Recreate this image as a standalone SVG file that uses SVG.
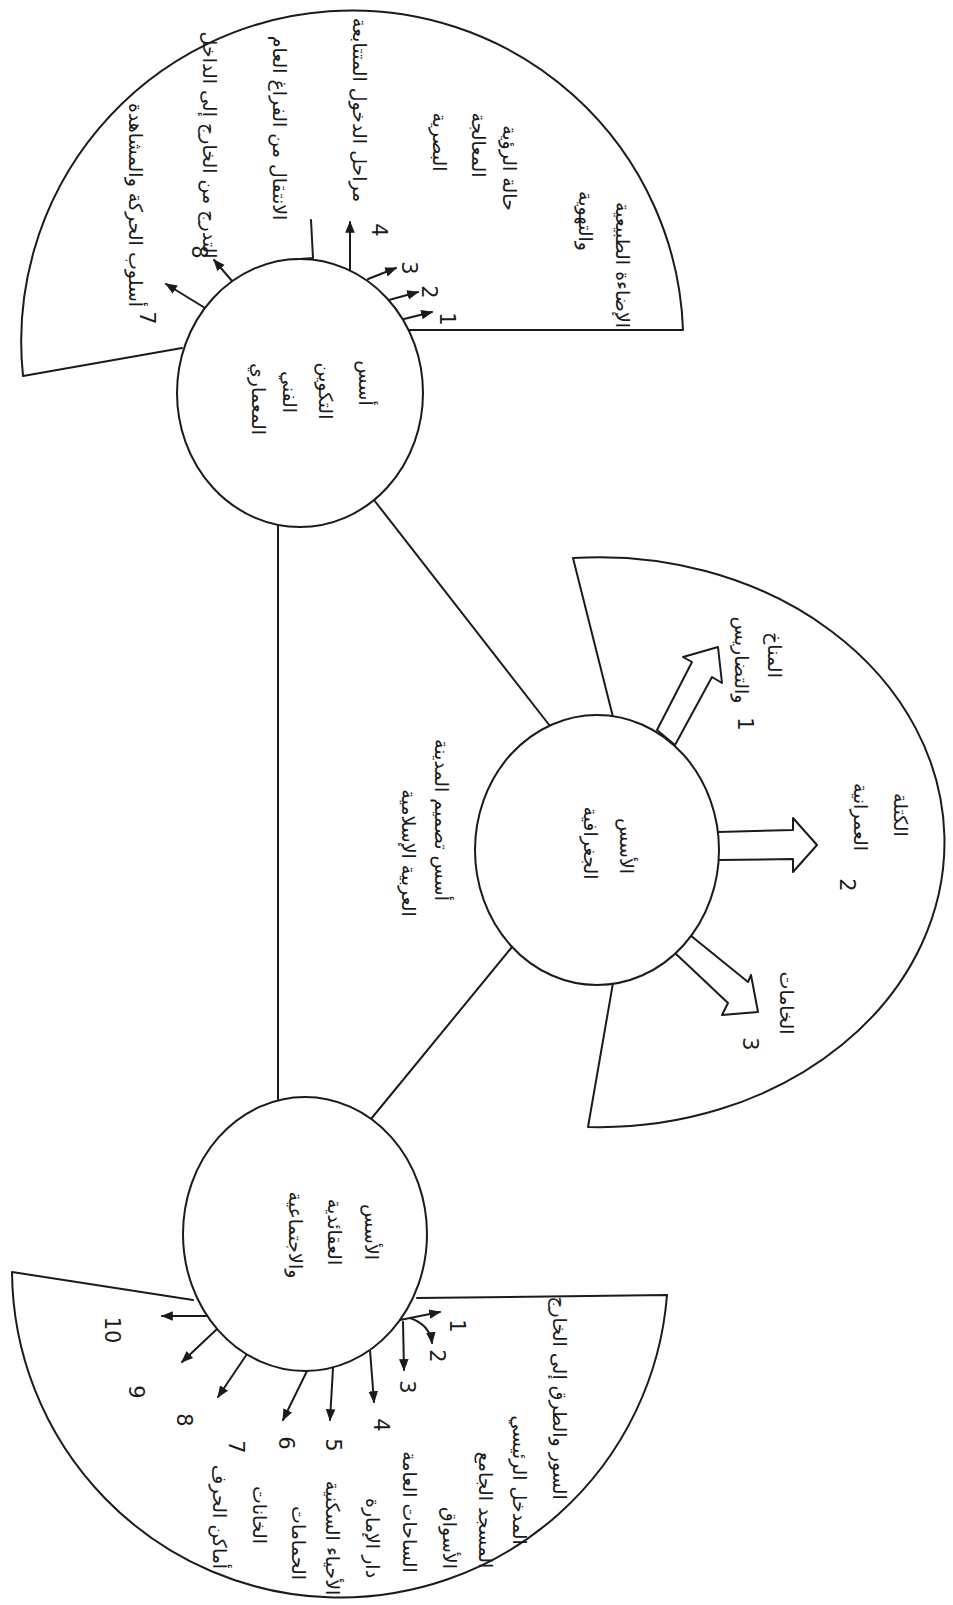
<svg xmlns="http://www.w3.org/2000/svg" width="953" height="1605" viewBox="0 0 953 1605">
<style>
.ln{fill:none;stroke:#1b1b1b;stroke-width:2;stroke-linecap:round;stroke-linejoin:round}
.nd{fill:#fff;stroke:#1b1b1b;stroke-width:2}
.ba{fill:#fff;stroke:#1b1b1b;stroke-width:2;stroke-linejoin:round}
.t{font-family:"DejaVu Sans",sans-serif;font-size:19px;fill:#1b1b1b;text-anchor:middle}
.n{font-family:"DejaVu Sans",sans-serif;font-size:21px;fill:#1b1b1b;text-anchor:middle}
</style>
<defs>
<marker id="ah" viewBox="0 0 10 10" refX="9" refY="5" markerWidth="6" markerHeight="6" orient="auto"><path d="M0,1 L10,5 L0,9 z" fill="#1b1b1b"/></marker>
</defs>
<rect width="953" height="1605" fill="#fff"/>

<g id="connectors" class="ln">
<line x1="278" y1="525" x2="278" y2="1100"/>
<line x1="374" y1="500" x2="550" y2="726"/>
<line x1="512" y1="947" x2="371" y2="1119"/>
</g>

<g id="sector-top">
<path class="ln" d="M182 348 L23 376 A331 331 0 1 1 683 330 L408 330"/>
<g class="ln">
<line x1="400" y1="320" x2="432" y2="312" marker-end="url(#ah)"/>
<line x1="389" y1="300" x2="418" y2="292" marker-end="url(#ah)"/>
<line x1="368" y1="279" x2="396" y2="268" marker-end="url(#ah)"/>
<line x1="350" y1="270" x2="350" y2="222" marker-end="url(#ah)"/>
<path d="M287 260 L313 258 L311 220"/>
<line x1="232" y1="281" x2="214" y2="260" marker-end="url(#ah)"/>
<line x1="205" y1="308" x2="166" y2="284" marker-end="url(#ah)"/>
</g>
<text class="t" transform="translate(129,205) rotate(90)">أسلوب الحركة والمشاهدة</text>
<text class="t" transform="translate(203,145) rotate(90)">التدرج من الخارج إلى الداخل</text>
<text class="t" transform="translate(273,128) rotate(90)">الانتقال من الفراغ العام</text>
<text class="t" transform="translate(353,110) rotate(90)">مراحل الدخول المتتابعة</text>
<text class="t" transform="translate(433,142) rotate(90)">البصرية</text>
<text class="t" transform="translate(472,145) rotate(90)">المعالجة</text>
<text class="t" transform="translate(503,168) rotate(90)">حالة الرؤية</text>
<text class="t" transform="translate(579,221) rotate(90)">والتهوية</text>
<text class="t" transform="translate(616,265) rotate(90)">الإضاءة الطبيعية</text>
<text class="n" transform="translate(440,319) rotate(90)">1</text>
<text class="n" transform="translate(422,292) rotate(90)">2</text>
<text class="n" transform="translate(402,268) rotate(90)">3</text>
<text class="n" transform="translate(372,230) rotate(90)">4</text>
<text class="n" transform="translate(192,252) rotate(90)">8</text>
<text class="n" transform="translate(140,318) rotate(90)">7</text>
</g>

<g id="node-top">
<ellipse class="nd" cx="300" cy="393" rx="123" ry="134"/>
<text class="t" transform="translate(359,383) rotate(90)">أسس</text>
<text class="t" transform="translate(319,391) rotate(90)">التكوين</text>
<text class="t" transform="translate(283,392) rotate(90)">الفني</text>
<text class="t" transform="translate(252,399) rotate(90)">المعماري</text>
</g>

<g id="label-center">
<text class="t" transform="translate(435,820) rotate(90)">أسس تصميم المدينة</text>
<text class="t" transform="translate(402,853) rotate(90)">العربية الإسلامية</text>
</g>

<g id="sector-middle">
<path class="ln" d="M613 717 L573 558 A345 285 0 1 1 588 1127 L613 983"/>
<polygon class="ba" points="657,730 692,662 683,657 718,647 722,683 712,677 675,745"/>
<polygon class="ba" points="718,832 793,830 793,818 817,845 793,872 793,859 718,860"/>
<polygon class="ba" points="690,935 748,982 751,975 758,1012 722,1015 728,1003 675,953"/>
<text class="t" transform="translate(768,655) rotate(90)">المناخ</text>
<text class="t" transform="translate(735,660) rotate(90)">والتضاريس</text>
<text class="n" transform="translate(738,724) rotate(90)">1</text>
<text class="t" transform="translate(894,815) rotate(90)">الكتلة</text>
<text class="t" transform="translate(854,817) rotate(90)">العمرانية</text>
<text class="n" transform="translate(840,885) rotate(90)">2</text>
<text class="t" transform="translate(780,1003) rotate(90)">الخامات</text>
<text class="n" transform="translate(743,1044) rotate(90)">3</text>
</g>

<g id="node-middle">
<ellipse class="nd" cx="597" cy="850" rx="122" ry="135"/>
<text class="t" transform="translate(620,846) rotate(90)">الأسس</text>
<text class="t" transform="translate(584,843) rotate(90)">الجغرافية</text>
</g>

<g id="sector-bottom">
<path class="ln" d="M193 1300 L12 1272 A328 328 0 0 0 667 1295 L417 1298"/>
<g class="ln">
<line x1="400" y1="1320" x2="440" y2="1312" marker-end="url(#ah)"/>
<path d="M410 1318 Q430 1325 432 1343" marker-end="url(#ah)"/>
<line x1="403" y1="1322" x2="404" y2="1370" marker-end="url(#ah)"/>
<line x1="370" y1="1350" x2="374" y2="1402" marker-end="url(#ah)"/>
<line x1="333" y1="1368" x2="330" y2="1420" marker-end="url(#ah)"/>
<line x1="307" y1="1371" x2="283" y2="1420" marker-end="url(#ah)"/>
<line x1="247" y1="1354" x2="218" y2="1397" marker-end="url(#ah)"/>
<line x1="217" y1="1329" x2="182" y2="1362" marker-end="url(#ah)"/>
<line x1="207" y1="1316" x2="162" y2="1316" marker-end="url(#ah)"/>
</g>
<text class="n" transform="translate(450,1326) rotate(90)">1</text>
<text class="n" transform="translate(430,1356) rotate(90)">2</text>
<text class="n" transform="translate(400,1387) rotate(90)">3</text>
<text class="n" transform="translate(374,1425) rotate(90)">4</text>
<text class="n" transform="translate(326,1445) rotate(90)">5</text>
<text class="n" transform="translate(279,1443) rotate(90)">6</text>
<text class="n" transform="translate(229,1447) rotate(90)">7</text>
<text class="n" transform="translate(177,1420) rotate(90)">8</text>
<text class="n" transform="translate(129,1392) rotate(90)">9</text>
<text class="n" transform="translate(105,1330) rotate(90)">10</text>
<text class="t" transform="translate(553,1398) rotate(90)">السور والطرق إلى الخارج</text>
<text class="t" transform="translate(513,1480) rotate(90)">المدخل الرئيسي</text>
<text class="t" transform="translate(479,1510) rotate(90)">المسجد الجامع</text>
<text class="t" transform="translate(443,1538) rotate(90)">الأسواق</text>
<text class="t" transform="translate(403,1512) rotate(90)">الساحات العامة</text>
<text class="t" transform="translate(366,1538) rotate(90)">دار الإمارة</text>
<text class="t" transform="translate(326,1538) rotate(90)">الأحياء السكنية</text>
<text class="t" transform="translate(292,1543) rotate(90)">الحمامات</text>
<text class="t" transform="translate(253,1515) rotate(90)">الخانات</text>
<text class="t" transform="translate(213,1517) rotate(90)">أماكن الحرف</text>
</g>

<g id="node-bottom">
<ellipse class="nd" cx="305" cy="1234" rx="122" ry="137"/>
<text class="t" transform="translate(365,1232) rotate(90)">الأسس</text>
<text class="t" transform="translate(328,1232) rotate(90)">العقائدية</text>
<text class="t" transform="translate(289,1235) rotate(90)">والاجتماعية</text>
</g>
</svg>
